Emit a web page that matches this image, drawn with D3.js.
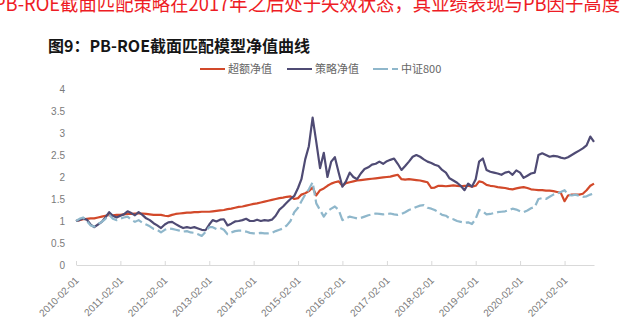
<!DOCTYPE html>
<html><head><meta charset="utf-8">
<script src="https://cdn.jsdelivr.net/npm/d3@7/dist/d3.min.js"></script>
<style>
html,body{margin:0;padding:0;background:#fff;overflow:hidden;}
svg{display:block;}
</style></head>
<body>
<svg id="chart" width="622" height="323"></svg>
<script>
// ---------- data ----------
const startMonth = "2010-02-01"; // monthly observations from this month
const seriesNames = ["超额净值", "策略净值", "中证800"];
const excessValues = [
 1.00,1.02,1.04,1.05,1.06,1.06,1.08,1.10,1.12,1.14,1.13,1.14,
 1.14,1.15,1.16,1.16,1.17,1.17,1.17,1.16,1.15,1.14,1.14,1.14,
 1.12,1.11,1.14,1.16,1.17,1.18,1.19,1.19,1.20,1.20,1.21,1.21,
 1.21,1.22,1.23,1.24,1.25,1.27,1.28,1.30,1.32,1.33,1.35,1.37,
 1.39,1.40,1.42,1.44,1.46,1.48,1.50,1.52,1.53,1.55,1.56,1.50,
 1.52,1.60,1.63,1.68,1.76,1.58,1.70,1.74,1.80,1.85,1.88,1.90,
 1.80,1.86,1.88,1.90,1.92,1.93,1.94,1.95,1.96,1.97,1.98,1.99,
 2.00,2.01,2.03,2.05,1.95,1.94,1.95,1.94,1.93,1.92,1.90,1.88,
 1.75,1.76,1.80,1.80,1.79,1.80,1.81,1.80,1.79,1.80,1.80,1.78,
 1.80,1.90,1.88,1.82,1.80,1.79,1.77,1.76,1.75,1.73,1.72,1.74,
 1.76,1.77,1.75,1.72,1.71,1.70,1.70,1.69,1.69,1.68,1.66,1.64,
 1.45,1.58,1.60,1.60,1.60,1.62,1.70,1.80,1.85
];
const strategyValues = [
 1.00,1.02,1.06,1.03,0.92,0.86,0.92,0.98,1.08,1.20,1.12,1.08,
 1.12,1.15,1.22,1.18,1.13,1.20,1.14,1.06,1.02,0.95,0.90,0.84,
 0.92,0.97,0.98,0.93,0.88,0.84,0.86,0.84,0.86,0.83,0.80,0.79,
 0.92,1.02,0.99,1.03,1.04,0.90,0.94,0.99,1.00,1.02,1.05,1.00,
 1.00,1.03,1.00,1.02,1.01,1.03,1.12,1.26,1.33,1.42,1.50,1.57,
 1.75,1.95,2.40,2.70,3.35,2.80,2.20,2.55,2.00,2.35,2.45,2.10,
 1.78,1.90,2.10,2.00,1.95,2.08,2.18,2.22,2.28,2.30,2.35,2.30,
 2.36,2.39,2.42,2.30,2.16,2.25,2.35,2.46,2.50,2.46,2.40,2.35,
 2.32,2.28,2.25,2.16,2.10,1.97,1.92,1.87,1.80,1.70,1.85,1.78,
 1.95,2.35,2.42,2.16,2.12,2.10,2.08,2.05,2.10,2.12,2.05,2.15,
 2.10,1.98,2.03,2.08,2.10,2.50,2.54,2.50,2.46,2.48,2.47,2.44,
 2.42,2.45,2.50,2.55,2.60,2.65,2.72,2.92,2.80
];
const csi800Values = [
 1.00,1.05,1.08,1.00,0.90,0.87,0.93,0.98,1.05,1.14,1.05,1.02,
 1.05,1.08,1.10,1.03,0.98,1.02,0.96,0.92,0.88,0.82,0.80,0.74,
 0.80,0.83,0.82,0.80,0.78,0.76,0.77,0.74,0.73,0.70,0.66,0.75,
 0.86,0.86,0.82,0.84,0.80,0.70,0.74,0.77,0.78,0.78,0.76,0.73,
 0.72,0.72,0.73,0.72,0.72,0.73,0.77,0.80,0.83,0.90,1.00,1.20,
 1.30,1.45,1.60,1.72,1.88,1.40,1.25,1.10,1.22,1.28,1.33,1.25,
 1.02,1.06,1.10,1.08,1.06,1.07,1.10,1.13,1.15,1.17,1.16,1.15,
 1.16,1.17,1.15,1.14,1.16,1.20,1.25,1.28,1.32,1.35,1.36,1.30,
 1.28,1.25,1.20,1.14,1.12,1.06,1.04,1.00,0.98,0.96,0.97,0.93,
 1.05,1.25,1.22,1.15,1.16,1.18,1.20,1.21,1.22,1.25,1.28,1.26,
 1.22,1.20,1.24,1.29,1.32,1.50,1.52,1.50,1.55,1.60,1.62,1.66,
 1.70,1.60,1.58,1.60,1.57,1.55,1.56,1.60,1.63
];
const yTicks = [0, 0.5, 1, 1.5, 2, 2.5, 3, 3.5, 4];
const xTickLabels = ["2010-02-01","2011-02-01","2012-02-01","2013-02-01","2014-02-01","2015-02-01",
 "2016-02-01","2017-02-01","2018-02-01","2019-02-01","2020-02-01","2021-02-01"];
const colors = ["#d2492a", "#4f4b74", "#8fb7cb"];
const headline = "PB-ROE截面匹配策略在2017年之后处于失效状态，其业绩表现与PB因子高度";
const title = "图9：PB-ROE截面匹配模型净值曲线";

// ---------- layout ----------
const parse = d3.utcParse("%Y-%m-%d");
const t0 = parse(startMonth);
const dates = d3.range(excessValues.length).map(i => d3.utcMonth.offset(t0, i));
const seriesValues = [excessValues, strategyValues, csi800Values];

const svg = d3.select("#chart");
const cjk = "'Noto Sans CJK SC','Noto Sans',sans-serif";
const latin = "'Liberation Sans',Arial,sans-serif";

svg.append("text").attr("x", -6).attr("y", 11)
  .attr("font-family", cjk).attr("font-size", 19.5).attr("fill", "#ee1c25")
  .attr("textLength", 626).attr("lengthAdjust", "spacingAndGlyphs")
  .text(headline);

svg.append("text").attr("x", 48).attr("y", 52)
  .attr("font-family", cjk).attr("font-size", 16).attr("font-weight", "bold").attr("fill", "#161616")
  .text(title);

const x = d3.scaleUtc().domain([dates[0], dates[dates.length - 1]]).range([76, 594]);
const y = d3.scaleLinear().domain([0, 4]).range([265, 89]);

// y axis labels
const ya = svg.append("g").attr("transform", "translate(76,0)")
  .call(d3.axisLeft(y).tickValues(yTicks).tickSize(0).tickPadding(11).tickFormat(d => String(d)));
ya.select(".domain").remove();
ya.selectAll("text").attr("font-family", latin).attr("font-size", 10).attr("fill", "#7a7a7a");

// x axis
const xa = svg.append("g").attr("transform", "translate(0,265)")
  .call(d3.axisBottom(x).tickValues(xTickLabels.map(parse)).tickSizeInner(-4).tickSizeOuter(0)
    .tickFormat(d3.utcFormat("%Y-%m-%d")));
xa.select(".domain").attr("stroke", "#d9d9d9");
xa.selectAll(".tick line").attr("stroke", "#d9d9d9");
xa.selectAll("text").attr("font-family", latin).attr("font-size", 10).attr("fill", "#7a7a7a")
  .attr("text-anchor", "end").attr("y", 0).attr("dy", 0)
  .attr("transform", "translate(3,16) rotate(-45)");

// lines
const line = d3.line().x((d, i) => x(dates[i])).y(d => y(d));
seriesValues.forEach((vals, k) => {
  svg.append("path").datum(vals).attr("d", line)
    .attr("fill", "none").attr("stroke", colors[k]).attr("stroke-width", 2.2)
    .attr("stroke-linejoin", "round")
    .attr("stroke-dasharray", k === 2 ? "10,4" : null);
});

// legend
const legendX = [200, 287, 373];
const lg = svg.append("g");
seriesNames.forEach((name, k) => {
  lg.append("line").attr("x1", legendX[k]).attr("x2", legendX[k] + 25).attr("y1", 69).attr("y2", 69)
    .attr("stroke", colors[k]).attr("stroke-width", 2)
    .attr("stroke-dasharray", k === 2 ? "15,4,6" : null);
  lg.append("text").attr("x", legendX[k] + 28).attr("y", 73)
    .attr("font-family", cjk).attr("font-size", 11).attr("fill", "#666").text(name);
});
</script>
</body></html>
